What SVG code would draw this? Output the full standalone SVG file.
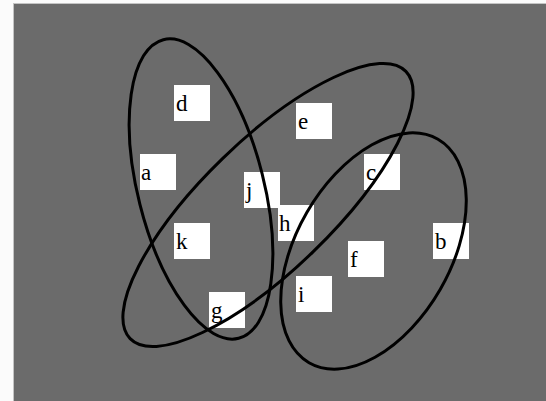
<svg xmlns="http://www.w3.org/2000/svg" width="546" height="401" viewBox="0 0 546 401">
<style>
.box{fill:#ffffff}
.lbl{font-family:"Liberation Serif","Times New Roman",serif;font-size:23px;fill:#000}
.set{fill:none;stroke:#000;stroke-width:3}
</style>
<rect x="0" y="0" width="546" height="401" fill="#fbfbfb"/>
<rect x="13.5" y="3.5" width="540" height="405" fill="#6b6b6b" stroke="#c4c4c4" stroke-width="1"/>
<g id="nodes">
<g id="d"><rect class="box" x="174" y="85" width="36" height="36"/><text class="lbl" x="176" y="111">d</text></g>
<g id="e"><rect class="box" x="296" y="103" width="36" height="36"/><text class="lbl" x="298" y="129">e</text></g>
<g id="a"><rect class="box" x="140" y="154" width="36" height="36"/><text class="lbl" x="141" y="180">a</text></g>
<g id="c"><rect class="box" x="364" y="154" width="36" height="36"/><text class="lbl" x="366" y="180">c</text></g>
<g id="j"><rect class="box" x="244" y="172" width="36" height="36"/><text class="lbl" x="246" y="198">j</text></g>
<g id="h"><rect class="box" x="278" y="205" width="36" height="36"/><text class="lbl" x="279" y="231">h</text></g>
<g id="k"><rect class="box" x="174" y="223" width="36" height="36"/><text class="lbl" x="176" y="249">k</text></g>
<g id="b"><rect class="box" x="433" y="223" width="36" height="36"/><text class="lbl" x="435" y="249">b</text></g>
<g id="f"><rect class="box" x="348" y="241" width="36" height="36"/><text class="lbl" x="350" y="267">f</text></g>
<g id="i"><rect class="box" x="296" y="276" width="36" height="36"/><text class="lbl" x="298" y="302">i</text></g>
<g id="g"><rect class="box" x="209" y="292" width="36" height="36"/><text class="lbl" x="211" y="318">g</text></g>
</g>
<g id="connectors">
<ellipse class="set" cx="201" cy="189" rx="154" ry="63" transform="rotate(75.85 201 189)"/>
<ellipse class="set" cx="268" cy="205" rx="192" ry="65" transform="rotate(-44.1 268 205)"/>
<ellipse class="set" cx="373.5" cy="251" rx="129" ry="77" transform="rotate(-60 373.5 251)"/>
</g>
</svg>
